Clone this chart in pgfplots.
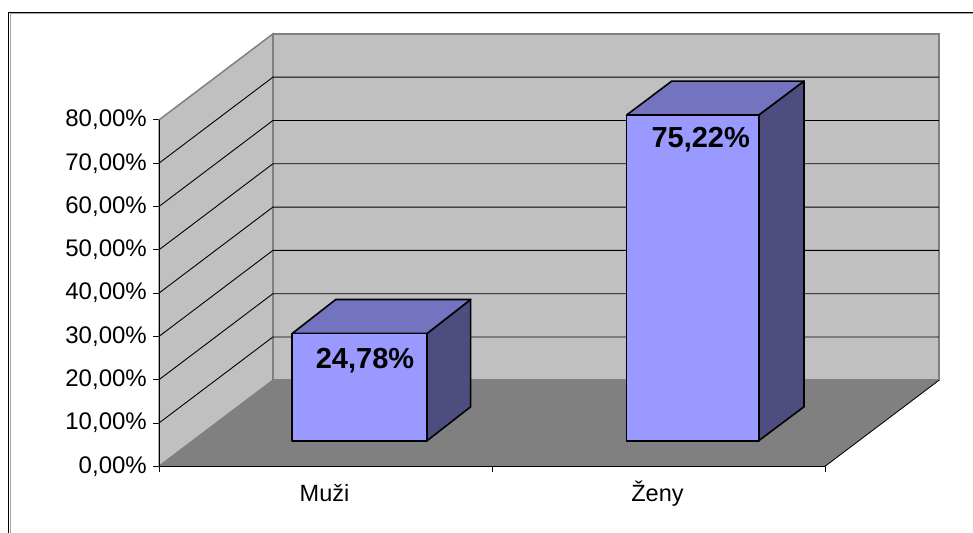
\documentclass[border=0pt]{standalone}
\usepackage{pgfplots}
\pgfplotsset{compat=1.18}
\usepackage{fontspec}
\setmainfont{Liberation Sans}
\definecolor{wallc}{HTML}{C0C0C0}
\definecolor{floorc}{HTML}{808080}
\definecolor{barf}{HTML}{9999FF}
\definecolor{bart}{HTML}{7373BF}
\definecolor{bars}{HTML}{4D4D80}
\begin{document}
\begin{tikzpicture}[x=1bp,y=1bp]
\useasboundingbox (0,0) rectangle (973,533);
\draw[black!35,line width=0.8bp] (10,0) -- (10,519.4) -- (973,519.4);
\draw[black,line width=1.1bp] (8.8,0) -- (8.8,520.4) -- (973,520.4);
\begin{axis}[
  at={(159bp,66.7bp)},anchor=south west,
  scale only axis,width=666bp,height=346.4bp,
  xmin=0,xmax=2,ymin=0,ymax=80,clip=false,
  axis x line=bottom,axis y line=left,
  axis line style={-,black,line width=1bp},
  xtick={0,1,2},xticklabels={},
  extra x ticks={0.5,1.5},extra x tick labels={Muži,Ženy},
  extra x tick style={major tick length=0pt},
  ytick={0,10,20,30,40,50,60,70,80},
  yticklabels={{0,00\%},{10,00\%},{20,00\%},{30,00\%},{40,00\%},{50,00\%},{60,00\%},{70,00\%},{80,00\%}},
  tick align=outside,major tick length=6bp,
  tick style={black,line width=0.9bp},
  ticklabel style={font=\fontsize{24bp}{24bp}\selectfont,inner sep=0pt},
  yticklabel style={xshift=-6bp},
  xticklabel style={font=\fontsize{23.5bp}{23.5bp}\selectfont,text height=20bp,text depth=6bp,yshift=-15bp,xshift=-1bp},
]
% walls and floor
\addplot[fill=wallc,draw=floorc,line width=2bp] coordinates {(0.342,19.86)(2.342,19.86)(2.342,99.86)(0.342,99.86)} --cycle;
\addplot[fill=wallc,draw=floorc,line width=1.5bp] coordinates {(0,0)(0.342,19.86)(0.342,99.86)(0,80)} --cycle;
\addplot[fill=floorc,draw=floorc,line width=0.6bp] coordinates {(0,0)(2,0)(2.342,19.86)(0.342,19.86)} --cycle;
\addplot[black,line width=0.8bp] coordinates {(2,0)(2.342,19.86)};
% grid lines
\foreach \v/\w in {10/29.86,20/39.86,30/49.86,40/59.86,50/69.86,60/79.86,70/89.86}{
  \edef\temp{\noexpand\addplot[black,line width=0.9bp] coordinates {(0,\v)(0.342,\w)(2.342,\w)};}
  \temp
}
% axis line over the walls
\addplot[black,line width=1bp] coordinates {(0,0)(0,80)};
\addplot[black,line width=1.1bp] coordinates {(0,0)(2,0)};
% bar Muzi 24.78
\addplot[fill=bars,draw=black,line width=1.6bp,line join=round] coordinates {(0.805,5.9)(0.936,13.75)(0.936,38.53)(0.805,30.68)} --cycle;
\addplot[fill=bart,draw=black,line width=1.6bp,line join=round] coordinates {(0.400,30.68)(0.805,30.68)(0.936,38.53)(0.531,38.53)} --cycle;
\addplot[fill=barf,draw=black,line width=1.6bp,line join=round] coordinates {(0.400,5.9)(0.805,5.9)(0.805,30.68)(0.400,30.68)} --cycle;
% bar Zeny 75.22
\addplot[fill=bars,draw=black,line width=1.6bp,line join=round] coordinates {(1.801,5.9)(1.937,13.75)(1.937,88.97)(1.801,81.12)} --cycle;
\addplot[fill=bart,draw=black,line width=1.6bp,line join=round] coordinates {(1.404,81.12)(1.801,81.12)(1.937,88.97)(1.540,88.97)} --cycle;
\addplot[fill=barf,draw=black,line width=1.6bp,line join=round] coordinates {(1.404,5.9)(1.801,5.9)(1.801,81.12)(1.404,81.12)} --cycle;
\node[anchor=base,inner sep=0pt,font=\fontsize{29bp}{29bp}\selectfont\bfseries] at (axis cs:0.6186,22.6) {24,78\%};
\node[anchor=base,inner sep=0pt,font=\fontsize{29bp}{29bp}\selectfont\bfseries] at (axis cs:1.6267,73.6) {75,22\%};
\end{axis}
\end{tikzpicture}
\end{document}
